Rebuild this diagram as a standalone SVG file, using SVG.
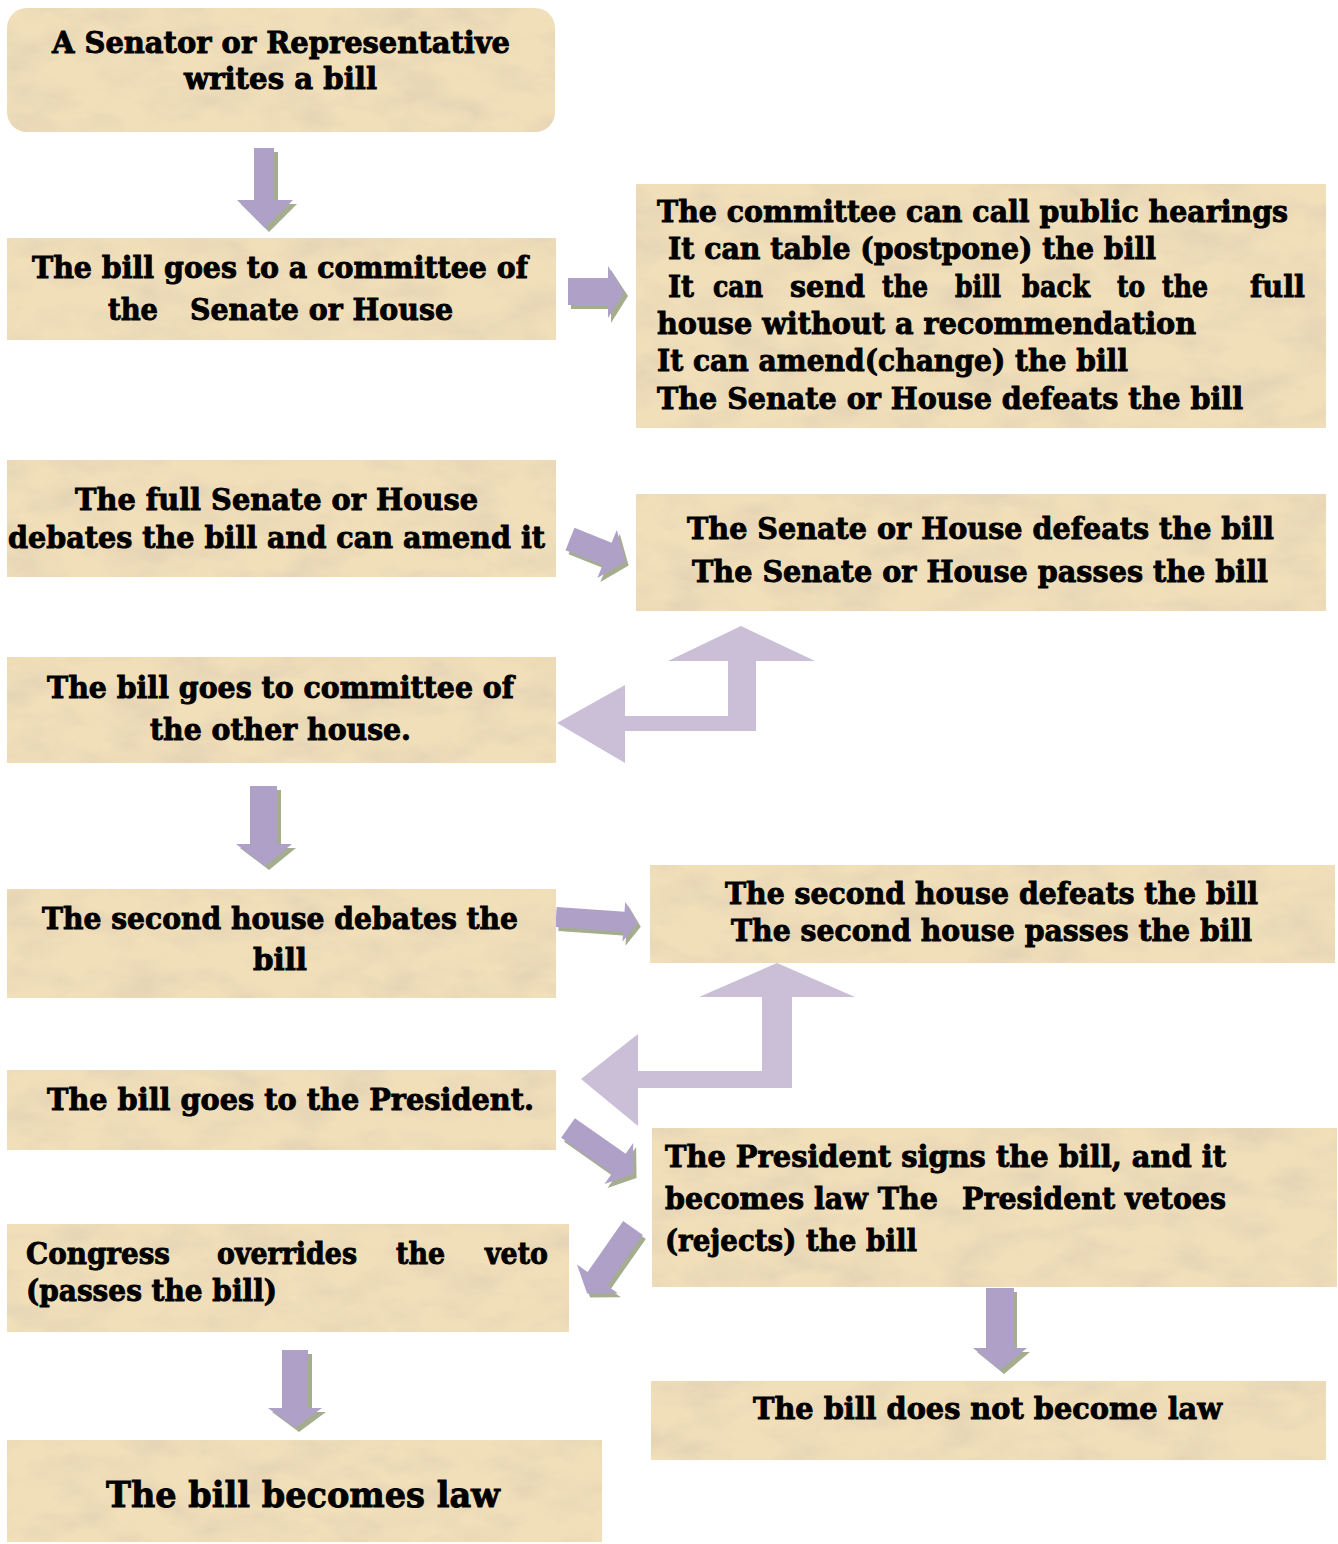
<svg xmlns="http://www.w3.org/2000/svg" width="1338" height="1544" viewBox="0 0 1338 1544">
<defs>
<filter id="tex" x="0" y="0" width="1" height="1">
<feTurbulence type="fractalNoise" baseFrequency="0.018 0.035" numOctaves="4" seed="7" result="n"/>
<feColorMatrix in="n" type="matrix" values="0 0 0 0 0.74  0 0 0 0 0.62  0 0 0 0 0.45  1.6 0 0 0 -0.66" result="spots"/>
<feComposite in="spots" in2="SourceGraphic" operator="in" result="s2"/>
<feMerge><feMergeNode in="SourceGraphic"/><feMergeNode in="s2"/></feMerge>
</filter>
</defs>
<style>
.box{fill:#F1DFBA;filter:url(#tex);}
.t{font-family:"DejaVu Serif","Liberation Serif",serif;font-weight:bold;font-size:30px;fill:#000;stroke:#000;stroke-width:0.9;}
.big{font-size:36px;}
.ar{fill:#AFA0C8;}
.sh{fill:#A4AE8F;}
.bent{fill:#CBBFD8;}
</style>
<rect width="1338" height="1544" fill="#fff"/>

<g id="connectors">
  <polygon class="sh" points="258,152 278,152 278,204 297,204 269,232 241,204 258,204"/>
  <polygon class="ar" points="254,148 274,148 274,200 293,200 265,228 237,200 254,200"/>
  <polygon class="sh" points="571,282 611,282 611,270 628,296 611,323 611,309 571,309"/>
  <polygon class="ar" points="568,278 608,278 608,266 624,292 608,318 608,305 568,305"/>
  <g transform="translate(573,543) rotate(22)"><polygon class="sh" points="0,-12 40,-12 40,-26 60,0 40,26 40,12 0,12"/></g>
  <g transform="translate(570,539) rotate(22)"><polygon class="ar" points="0,-12 40,-12 40,-26 60,0 40,26 40,12 0,12"/></g>
  <polygon class="bent" points="741,626 815,661 756,661 756,731 625,731 625,763 557,723 625,685 625,716 728,716 728,661 668,661"/>
  <polygon class="sh" points="254,790 281,790 281,848 296,848 269,870 240,848 254,848"/>
  <polygon class="ar" points="250,786 277,786 277,844 292,844 265,866 236,844 250,844"/>
  <g transform="translate(559,921) rotate(4)"><polygon class="sh" points="0,-10 68,-10 68,-20 82,0 68,20 68,10 0,10"/></g>
  <g transform="translate(556,917) rotate(4)"><polygon class="ar" points="0,-10 68,-10 68,-20 82,0 68,20 68,10 0,10"/></g>
  <polygon class="bent" points="777,963 855,997 792,997 792,1088 638,1088 638,1126 581,1079 638,1034 638,1071 762,1071 762,997 699,997"/>
  <g transform="translate(571,1132) rotate(35)"><polygon class="sh" points="0,-12 62,-12 62,-25 80,0 62,25 62,12 0,12"/></g>
  <g transform="translate(568,1128) rotate(35)"><polygon class="ar" points="0,-12 62,-12 62,-25 80,0 62,25 62,12 0,12"/></g>
  <g transform="translate(636,1232) rotate(125)"><polygon class="sh" points="0,-12 62,-12 62,-25 80,0 62,25 62,12 0,12"/></g>
  <g transform="translate(633,1228) rotate(125)"><polygon class="ar" points="0,-12 62,-12 62,-25 80,0 62,25 62,12 0,12"/></g>
  <polygon class="sh" points="989,1292 1017,1292 1017,1352 1030,1352 1004,1374 977,1352 989,1352"/>
  <polygon class="ar" points="986,1288 1014,1288 1014,1348 1027,1348 1000,1370 973,1348 986,1348"/>
  <polygon class="sh" points="286,1354 312,1354 312,1412 326,1412 299,1432 272,1412 286,1412"/>
  <polygon class="ar" points="282,1350 308,1350 308,1408 322,1408 295,1428 268,1408 282,1408"/>
</g>

<g id="n1">
  <rect class="box" x="7" y="8" width="548" height="124" rx="20"/>
  <text class="t" x="52" y="53" textLength="458" lengthAdjust="spacingAndGlyphs">A Senator or Representative</text>
  <text class="t" x="184" y="89" textLength="193" lengthAdjust="spacingAndGlyphs">writes a bill</text>
</g>
<g id="n2">
  <rect class="box" x="7" y="238" width="549" height="102"/>
  <text class="t" x="32" y="278" textLength="496" lengthAdjust="spacingAndGlyphs">The bill goes to a committee of</text>
  <text class="t" x="108" y="320" textLength="50" lengthAdjust="spacingAndGlyphs">the</text>
  <text class="t" x="190" y="320" textLength="263" lengthAdjust="spacingAndGlyphs">Senate or House</text>
</g>
<g id="n3">
  <rect class="box" x="636" y="184" width="690" height="244"/>
  <text class="t" x="657" y="222" textLength="631" lengthAdjust="spacingAndGlyphs">The committee can call public hearings</text>
  <text class="t" x="668" y="259" textLength="488" lengthAdjust="spacingAndGlyphs">It can table (postpone) the bill</text>
  <text class="t" y="297">
    <tspan x="668" textLength="26" lengthAdjust="spacingAndGlyphs">It</tspan>
    <tspan x="713" textLength="50" lengthAdjust="spacingAndGlyphs">can</tspan>
    <tspan x="790" textLength="75" lengthAdjust="spacingAndGlyphs">send</tspan>
    <tspan x="882" textLength="46" lengthAdjust="spacingAndGlyphs">the</tspan>
    <tspan x="955" textLength="46" lengthAdjust="spacingAndGlyphs">bill</tspan>
    <tspan x="1022" textLength="68" lengthAdjust="spacingAndGlyphs">back</tspan>
    <tspan x="1117" textLength="28" lengthAdjust="spacingAndGlyphs">to</tspan>
    <tspan x="1162" textLength="46" lengthAdjust="spacingAndGlyphs">the</tspan>
    <tspan x="1250" textLength="55" lengthAdjust="spacingAndGlyphs">full</tspan>
  </text>
  <text class="t" x="657" y="334" textLength="539" lengthAdjust="spacingAndGlyphs">house without a recommendation</text>
  <text class="t" x="657" y="371" textLength="471" lengthAdjust="spacingAndGlyphs">It can amend(change) the bill</text>
  <text class="t" x="657" y="409" textLength="586" lengthAdjust="spacingAndGlyphs">The Senate or House defeats the bill</text>
</g>
<g id="n4">
  <rect class="box" x="7" y="460" width="549" height="117"/>
  <text class="t" x="75" y="510" textLength="403" lengthAdjust="spacingAndGlyphs">The full Senate or House</text>
  <text class="t" x="8" y="548" textLength="537" lengthAdjust="spacingAndGlyphs">debates the bill and can amend it</text>
</g>
<g id="n5">
  <rect class="box" x="636" y="494" width="690" height="117"/>
  <text class="t" x="687" y="539" textLength="587" lengthAdjust="spacingAndGlyphs">The Senate or House defeats the bill</text>
  <text class="t" x="692" y="582" textLength="576" lengthAdjust="spacingAndGlyphs">The Senate or House passes the bill</text>
</g>
<g id="n6">
  <rect class="box" x="7" y="657" width="549" height="106"/>
  <text class="t" x="47" y="698" textLength="467" lengthAdjust="spacingAndGlyphs">The bill goes to committee of</text>
  <text class="t" x="150" y="740" textLength="261" lengthAdjust="spacingAndGlyphs">the other house.</text>
</g>
<g id="n7">
  <rect class="box" x="7" y="889" width="549" height="109"/>
  <text class="t" x="42" y="929" textLength="476" lengthAdjust="spacingAndGlyphs">The second house debates the</text>
  <text class="t" x="253" y="970" textLength="54" lengthAdjust="spacingAndGlyphs">bill</text>
</g>
<g id="n8">
  <rect class="box" x="650" y="865" width="685" height="98"/>
  <text class="t" x="725" y="904" textLength="533" lengthAdjust="spacingAndGlyphs">The second house defeats the bill</text>
  <text class="t" x="731" y="941" textLength="521" lengthAdjust="spacingAndGlyphs">The second house passes the bill</text>
</g>
<g id="n9">
  <rect class="box" x="7" y="1070" width="549" height="80"/>
  <text class="t" x="47" y="1110" textLength="487" lengthAdjust="spacingAndGlyphs">The bill goes to the President.</text>
</g>
<g id="n10">
  <rect class="box" x="652" y="1128" width="685" height="159"/>
  <text class="t" x="665" y="1167" textLength="561" lengthAdjust="spacingAndGlyphs">The President signs the bill, and it</text>
  <text class="t" x="665" y="1209" textLength="273" lengthAdjust="spacingAndGlyphs">becomes law The</text>
  <text class="t" x="962" y="1209" textLength="264" lengthAdjust="spacingAndGlyphs">President vetoes</text>
  <text class="t" x="665" y="1251" textLength="252" lengthAdjust="spacingAndGlyphs">(rejects) the bill</text>
</g>
<g id="n11">
  <rect class="box" x="7" y="1224" width="562" height="108"/>
  <text class="t" y="1264">
    <tspan x="26" textLength="144" lengthAdjust="spacingAndGlyphs">Congress</tspan>
    <tspan x="217" textLength="140" lengthAdjust="spacingAndGlyphs">overrides</tspan>
    <tspan x="396" textLength="49" lengthAdjust="spacingAndGlyphs">the</tspan>
    <tspan x="485" textLength="63" lengthAdjust="spacingAndGlyphs">veto</tspan>
  </text>
  <text class="t" x="26" y="1301" textLength="251" lengthAdjust="spacingAndGlyphs">(passes the bill)</text>
</g>
<g id="n12">
  <rect class="box" x="651" y="1381" width="675" height="79"/>
  <text class="t" x="753" y="1419" textLength="469" lengthAdjust="spacingAndGlyphs">The bill does not become law</text>
</g>
<g id="n13">
  <rect class="box" x="7" y="1440" width="595" height="102"/>
  <text class="t big" x="106" y="1507" textLength="394" lengthAdjust="spacingAndGlyphs">The bill becomes law</text>
</g>
</svg>
